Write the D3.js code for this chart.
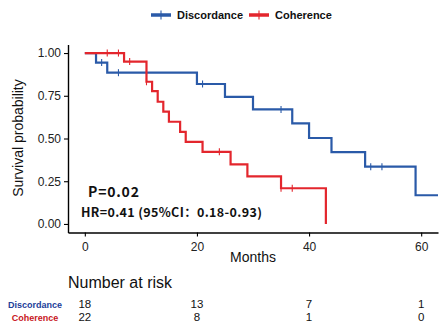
<!DOCTYPE html>
<html>
<head>
<meta charset="utf-8">
<script src="https://cdn.jsdelivr.net/npm/d3@7"></script>
<style>
  body { margin: 0; background: #fff; }
  svg { display: block; }
</style>
</head>
<body>
<svg width="447" height="326"></svg>
<script>
// Kaplan-Meier steps (months, survival after the event)
const discTimes = [2, 4, 20, 25, 30, 37, 40, 44, 50, 59];
const discSurv = [0.944, 0.885, 0.819, 0.744, 0.670, 0.589, 0.503, 0.420, 0.335, 0.168];
const discCensor = [3, 6, 21, 35, 51, 53];
const discEnd = 63;

const cohTimes = [7, 11, 12, 13, 14, 15, 17, 18, 21, 26, 29, 35, 43];
const cohSurv = [0.950, 0.832, 0.777, 0.715, 0.657, 0.598, 0.539, 0.480, 0.422, 0.349, 0.278, 0.209, 0];
const cohCensor = [4, 6, 8, 11, 24, 35, 37];
const cohEnd = 43;

const groups = ["Discordance", "Coherence"];
const colors = ["#2a5aa8", "#e3262d"];
const labelColors = ["#22409a", "#c8161d"];

const riskTimes = [0, 20, 40, 60];
const riskDisc = [18, 13, 7, 1];
const riskCoh = [22, 8, 1, 0];

const xTicks = [0, 20, 40, 60];
const yTicks = [0, 0.25, 0.5, 0.75, 1];

const svg = d3.select("svg");

// scales (ggplot-style 5% expansion)
const x = d3.scaleLinear().domain([-3, 63]).range([68, 438]);
const y = d3.scaleLinear().domain([-0.05, 1.05]).range([232.5, 44.5]);

// build step data for each group
function steps(times, surv, end) {
    let pts = [[0, 1]];
    times.forEach((t, i) => pts.push([t, surv[i]]));
    let last = pts[pts.length - 1];
    if (end > last[0]) pts.push([end, last[1]]);
    return pts;
}
function survAt(times, surv, t) {
    let s = 1;
    times.forEach((tt, i) => { if (tt <= t) s = surv[i]; });
    return s;
}

const series = [
    {pts: steps(discTimes, discSurv, discEnd), cens: discCensor.map(t => [t, survAt(discTimes, discSurv, t)])},
    {pts: steps(cohTimes, cohSurv, cohEnd), cens: cohCensor.map(t => [t, survAt(cohTimes, cohSurv, t)])}
];

const line = d3.line()
    .x(d => x(d[0]))
    .y(d => y(d[1]))
    .curve(d3.curveStepAfter);

// axes
const xAxis = svg.append("g")
    .attr("transform", "translate(0,232.5)")
    .call(d3.axisBottom(x).tickValues(xTicks).tickSize(4).tickSizeOuter(0));
const yAxis = svg.append("g")
    .attr("transform", "translate(68,0)")
    .call(d3.axisLeft(y).tickValues(yTicks).tickFormat(d3.format(".2f")).tickSize(4).tickSizeOuter(0));

[xAxis, yAxis].forEach(a => {
    a.select(".domain").attr("stroke", "#000").attr("stroke-width", 1.4);
    a.selectAll(".tick line").attr("stroke", "#000").attr("stroke-width", 1.1);
    a.selectAll(".tick text")
        .attr("fill", "#222")
        .style("font-family", "'Liberation Sans', Arial, sans-serif")
        .style("font-size", "12px");
});
xAxis.selectAll(".tick text").attr("dy", "0.95em");

// curves
series.forEach((s, i) => {
    svg.append("path")
        .datum(s.pts)
        .attr("d", line)
        .attr("fill", "none")
        .attr("stroke", colors[i])
        .attr("stroke-width", 2.2);
});
series.forEach((s, i) => {
    svg.selectAll(null)
        .data(s.cens)
        .join("line")
        .attr("x1", d => x(d[0])).attr("x2", d => x(d[0]))
        .attr("y1", d => y(d[1]) - 3.5).attr("y2", d => y(d[1]) + 3.5)
        .attr("stroke", colors[i])
        .attr("stroke-width", 1.1);
});

// axis titles
svg.append("text")
    .attr("transform", "translate(23,138) rotate(-90)")
    .attr("text-anchor", "middle")
    .style("font-family", "'Liberation Sans', Arial, sans-serif")
    .style("font-size", "14px")
    .attr("fill", "#111")
    .text("Survival probability");
svg.append("text")
    .attr("x", 253).attr("y", 262)
    .attr("text-anchor", "middle")
    .style("font-family", "'Liberation Sans', Arial, sans-serif")
    .style("font-size", "14px")
    .attr("fill", "#111")
    .text("Months");

// annotations
svg.append("text")
    .attr("x", 88).attr("y", 197)
    .style("font-family", "'Noto Sans CJK SC', sans-serif")
    .style("font-weight", "bold")
    .style("font-size", "14px")
    .style("letter-spacing", "0.8px")
    .attr("fill", "#111")
    .text("P=0.02");
svg.append("text")
    .attr("x", 81).attr("y", 217)
    .style("font-family", "'Noto Sans CJK SC', sans-serif")
    .style("font-weight", "bold")
    .style("font-size", "12.5px")
    .style("letter-spacing", "0.35px")
    .attr("fill", "#111")
    .text("HR=0.41 (95%CI：0.18-0.93)");

// legend
const legend = svg.append("g");
const legX = [151, 249];
groups.forEach((g, i) => {
    const lg = legend.append("g").attr("transform", `translate(${legX[i]},15)`);
    lg.append("line").attr("x1", 0).attr("x2", 20).attr("y1", 0).attr("y2", 0)
        .attr("stroke", colors[i]).attr("stroke-width", 3.5);
    lg.append("line").attr("x1", 10).attr("x2", 10).attr("y1", -4.5).attr("y2", 4.5)
        .attr("stroke", colors[i]).attr("stroke-width", 1.1);
    lg.append("text")
        .attr("x", 26).attr("y", 4)
        .style("font-family", "'Liberation Sans', Arial, sans-serif")
        .style("font-weight", "bold")
        .style("font-size", "11px")
        .attr("fill", "#111")
        .text(g);
});

// risk table
svg.append("text")
    .attr("x", 68).attr("y", 288)
    .style("font-family", "'Liberation Sans', Arial, sans-serif")
    .style("font-size", "16px")
    .attr("fill", "#111")
    .text("Number at risk");

const riskRows = [riskDisc, riskCoh];
const rowY = [308, 321];
riskRows.forEach((row, i) => {
    svg.append("text")
        .attr("x", 35).attr("y", rowY[i])
        .attr("text-anchor", "middle")
        .style("font-family", "'Liberation Sans', Arial, sans-serif")
        .style("font-weight", "bold")
        .style("font-size", "9px")
        .attr("fill", labelColors[i])
        .text(groups[i]);
    svg.selectAll(null)
        .data(row)
        .join("text")
        .attr("x", (d, j) => x(riskTimes[j]))
        .attr("y", rowY[i])
        .attr("text-anchor", "middle")
        .style("font-family", "'Liberation Sans', Arial, sans-serif")
        .style("font-size", "11.5px")
        .attr("fill", "#111")
        .text(d => d);
});
</script>
</body>
</html>
